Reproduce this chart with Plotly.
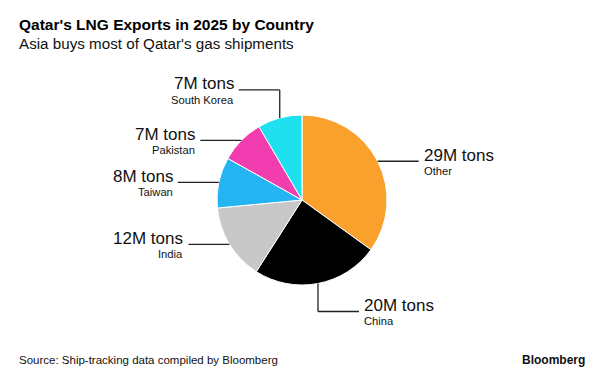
import math
import plotly.graph_objects as go

# ---- data ----
categories = ["Other", "China", "India", "Taiwan", "Pakistan", "South Korea"]
values = [29, 20, 12, 8, 7, 7]
value_labels = ["29M tons", "20M tons", "12M tons", "8M tons", "7M tons", "7M tons"]
colors = ["#F9A02D", "#000000", "#C8C8C8", "#24B4F2", "#F23DB0", "#1EE0EF"]

title = "<b>Qatar's LNG Exports in 2025 by Country</b>"
subtitle = "Asia buys most of Qatar's gas shipments"
source = "Source: Ship-tracking data compiled by Bloomberg"

# ---- layout constants (pixels) ----
W, H = 600, 385
CX, CY, R = 302, 200, 85
HLEN = 41      # horizontal leader length
VLEN = 28      # vertical leader length for top/bottom slices
FONT = "Liberation Sans"

def px(x):
    return x / W

def py(y):
    return 1 - y / H

fig = go.Figure(go.Pie(
    labels=categories, values=values, sort=False, direction="clockwise",
    rotation=0, marker=dict(colors=colors, line=dict(color="white", width=1)),
    textinfo="none", hoverinfo="label+value", showlegend=False,
    domain=dict(x=[px(CX - R), px(CX + R)], y=[py(CY + R), py(CY - R)]),
))

shapes, annotations = [], []
total = sum(values)
cum = 0
for cat, v, lab in zip(categories, values, value_labels):
    mid = (cum + v / 2) / total * 2 * math.pi
    cum += v
    ex = CX + R * math.sin(mid)
    ey = CY - R * math.cos(mid)
    right = math.sin(mid) >= 0
    pts = [(ex, ey)]
    if abs(math.cos(mid)) > 0.9:
        vy = ey - VLEN if math.cos(mid) > 0 else ey + VLEN
        pts.append((ex, vy))
        hx = ex + HLEN if math.cos(mid) < 0 else ex - HLEN
        pts.append((hx, vy))
        right = math.cos(mid) < 0
    else:
        hx = ex + HLEN if right else ex - HLEN
        pts.append((hx, ey))
    for (x0, y0), (x1, y1) in zip(pts[:-1], pts[1:]):
        shapes.append(dict(type="line", xref="paper", yref="paper",
                           x0=px(x0), y0=py(y0), x1=px(x1), y1=py(y1),
                           line=dict(color="#222222", width=1.3)))
    lx, ly = pts[-1]
    tx = lx + 3 if right else lx - 3
    anchor = "left" if right else "right"
    annotations.append(dict(text=lab, x=px(tx), y=py(ly - 6), xref="paper", yref="paper",
                            xanchor=anchor, yanchor="middle", showarrow=False,
                            font=dict(family=FONT, size=17, color="#111111")))
    annotations.append(dict(text=cat, x=px(tx), y=py(ly + 10), xref="paper", yref="paper",
                            xanchor=anchor, yanchor="middle", showarrow=False,
                            font=dict(family=FONT, size=11.2, color="#111111")))

annotations += [
    dict(text=title, x=px(17), y=py(24), xref="paper", yref="paper", xanchor="left",
         yanchor="middle", showarrow=False, font=dict(family=FONT, size=15.5, color="#000000")),
    dict(text=subtitle, x=px(17), y=py(43), xref="paper", yref="paper", xanchor="left",
         yanchor="middle", showarrow=False, font=dict(family=FONT, size=15.2, color="#111111")),
    dict(text=source, x=px(17), y=py(360), xref="paper", yref="paper", xanchor="left",
         yanchor="middle", showarrow=False, font=dict(family=FONT, size=11.5, color="#111111")),
    dict(text="<b>Bloomberg</b>", x=px(587), y=py(360), xref="paper", yref="paper",
         xanchor="right", yanchor="middle", showarrow=False,
         font=dict(family=FONT, size=12, color="#111111")),
]

fig.update_layout(width=W, height=H, margin=dict(l=0, r=0, t=0, b=0),
                  paper_bgcolor="white", plot_bgcolor="white",
                  shapes=shapes, annotations=annotations)
fig.write_html("out.html", config={"displayModeBar": False})

# remove the default page margin so the figure sits at the window's origin
with open("out.html", encoding="utf-8") as f:
    html = f.read()
html = html.replace("<body>", '<body style="margin:0;overflow:hidden">', 1)
with open("out.html", "w", encoding="utf-8") as f:
    f.write(html)
